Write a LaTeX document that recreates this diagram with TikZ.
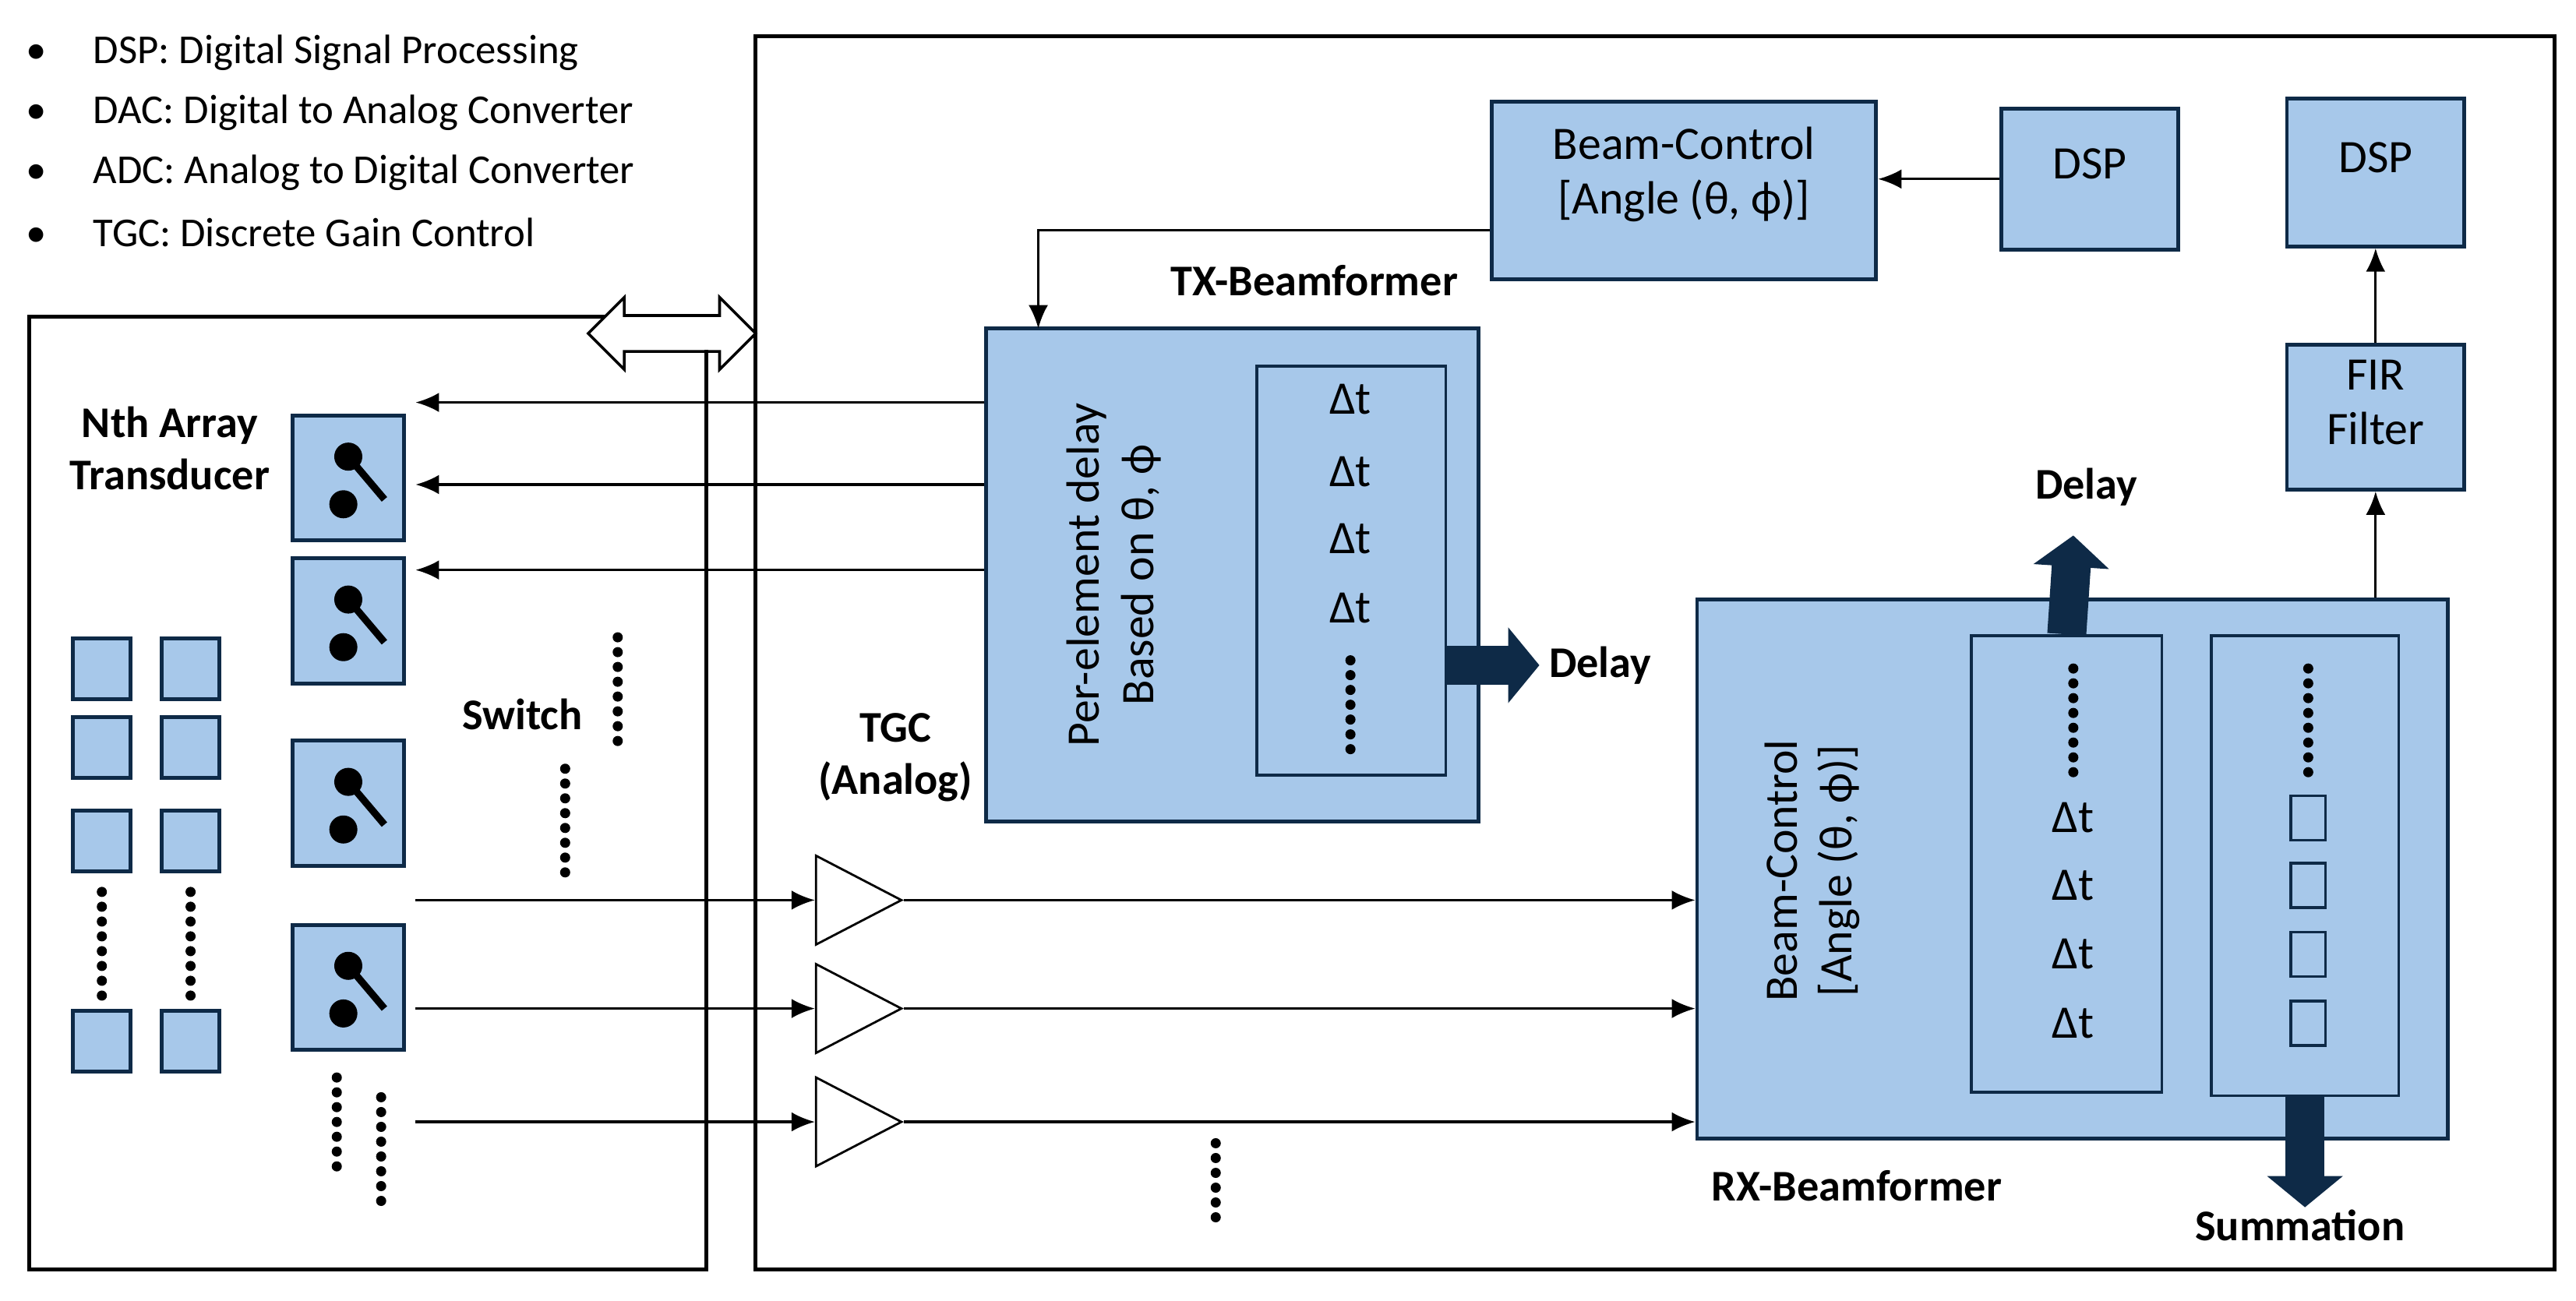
\documentclass[tikz,border=0pt]{standalone}
\usepackage{fontspec}
\setmainfont{Carlito}
\usetikzlibrary{fit,calc,shapes.geometric,shapes.arrows,arrows.meta}
\definecolor{boxblue}{HTML}{A7C8EA}
\definecolor{navy}{HTML}{0E2A47}
\def\u{0.02108cm}
\tikzset{
  box/.style={draw=navy, fill=boxblue, line width=1.4pt, inner sep=0pt, align=center, font=\fontsize{17}{20}\selectfont},
  inbox/.style={draw=navy, line width=1pt, inner sep=0pt},
  lbl/.style={font=\bfseries\fontsize{16}{19}\selectfont, align=center},
  arr/.style={-{Latex[length=0.3cm,width=0.25cm]}, line width=0.9pt},
  fat/.style={-{Triangle[length=0.4cm,width=0.95cm]}, line width=0.5cm, draw=navy},
  dots/.style={line width=0.13cm, dash pattern=on 0pt off 0.19cm, line cap=round},
  amp/.style={isosceles triangle, isosceles triangle apex angle=55, draw, line width=0.8pt, minimum height=52*\u, inner sep=0pt, anchor=west},
}
\newcommand\switchsym[1]{%
  \fill ($(#1)+(0,-13)$) circle (0.18cm);
  \draw[line width=2.6pt] ($(#1)+(0,-13)$) -- ($(#1)+(22,13)$);
  \fill ($(#1)+(-3,16)$) circle (0.18cm);
}
\begin{document}
\begin{tikzpicture}[x=\u, y=-\u, font=\fontsize{15}{18}\selectfont]
\useasboundingbox (0,0) rectangle (1568,792);
% legend
\foreach \t [count=\i] in {DSP: Digital Signal Processing, DAC: Digital to Analog Converter, ADC: Analog to Digital Converter, TGC: Discrete Gain Control}
  \node[anchor=west] (leg\i) at (10,{32+36.5*(\i-1)}) {\textbullet\hspace{0.6cm}\t};
% frames
\draw[line width=1.4pt] (18,193) rectangle (430,773);
\draw[line width=1.4pt] (460,22) rectangle (1555,773);
\node[double arrow, draw, fill=white, line width=1pt, minimum width=44*\u, double arrow head extend=0.16cm, minimum height=102*\u, inner sep=0.14cm] (bus) at (409,203) {};
\draw[line width=1.4pt] (430,213) -- (430,773);
% top blocks
\node[box, fit={(908,62) (1142,170)}] (bcTop) {Beam-Control\\{}[Angle (θ, ϕ)]};
\node[box, fit={(1218,66) (1326,152)}] (dspTx) {DSP};
\node[box, fit={(1392,60) (1500,150)}] (dspRx) {DSP};
\node[box, fit={(1392,210) (1500,298)}] (fir) {FIR\\Filter};
\draw[arr] (dspTx.west) -- (bcTop.east |- dspTx.west);
% TX beamformer
\node[box, fit={(600,200) (900,500)}] (tx) {};
\node[lbl, anchor=south] at (800,186) {TX-Beamformer};
\node[inbox, fit={(765,223) (880,472)}] (txin) {};
\node[rotate=90, align=center, font=\fontsize{17}{20}\selectfont] (txtxt) at (678,350) {Per-element delay\\Based on θ, ϕ};
\foreach \y in {243,287,328,370} \node[font=\fontsize{17}{20}\selectfont] at (822,\y) {Δt};
\draw[dots] (822,402) -- (822,460);
\draw[arr] (bcTop.west |- 0,140) -| (632,200);
\coordinate (txd) at (937,405);
\draw[fat] (880,405) -- (txd);
\node[lbl, anchor=west] at (txd) {Delay};
% switches
\foreach \y [count=\i] in {291,378,489,601} {
  \node[box, minimum width=68*\u, minimum height=76*\u] (sw\i) at (212,\y) {};
  \switchsym{sw\i}
}
\foreach \y in {245,295,347} {
  \coordinate (swin) at (253,\y);
  \draw[arr] (tx.west |- swin) -- (swin);
}
\node[lbl, anchor=east] at (170,273) {Nth Array\\Transducer};
% transducer elements
\foreach \x in {62,116} {
  \foreach \y in {407,455,512,634} \node[box, minimum width=35*\u, minimum height=37*\u] at (\x,\y) {};
  \draw[dots] (\x,543) -- (\x,607);
}
\node[lbl] at (318,435) {Switch};
\draw[dots] (376,388) -- (376,456);
\draw[dots] (344,468) -- (344,536);
\draw[dots] (205,656) -- (205,716);
\draw[dots] (232,668) -- (232,732);
% RX beamformer
\node[box, fit={(1033,365) (1490,693)}] (rx) {};
\node[inbox, fit={(1200,387) (1316,665)}] (rxin) {};
\node[inbox, fit={(1346,387) (1460,667)}] (sumin) {};
\node[rotate=90, align=center, font=\fontsize{17}{20}\selectfont] at (1103,530) {Beam-Control\\{}[Angle (θ, ϕ)]};
\foreach \y in {498,539,581,623} {
  \node[font=\fontsize{17}{20}\selectfont] at (1262,\y) {Δt};
  \node[inbox, minimum width=21*\u, minimum height=27*\u] at (1405,\y) {};
}
\draw[dots] (1262,407) -- (1262,472);
\draw[dots] (1405,407) -- (1405,472);
\node[lbl, anchor=west] at (1036,722) {RX-Beamformer};
\coordinate (rxd) at (1262,326);
\draw[fat] (rxin.north) -- (rxd);
\node[lbl, anchor=south] at (1270,314) {Delay};
\coordinate (rxs) at (1403,735);
\draw[fat] (1403,667) -- (rxs);
\node[lbl] at (1400,746) {Summation};
\draw[arr] (rx.north -| fir) -- (fir.south);
\draw[arr] (fir.north) -- (dspRx.south);
% TGC
\node[lbl] at (545,461) {TGC\\(Analog)};
\foreach \y [count=\i] in {548,614,683} {
  \node[amp] (amp\i) at (496,\y) {};
  \coordinate (in\i) at (253,\y);
  \draw[arr] (in\i) -- (amp\i.west);
  \draw[arr] (amp\i.east) -- (rx.west |- amp\i.east);
}
\draw[dots] (740,696) -- (740,750);
\end{tikzpicture}
\end{document}
